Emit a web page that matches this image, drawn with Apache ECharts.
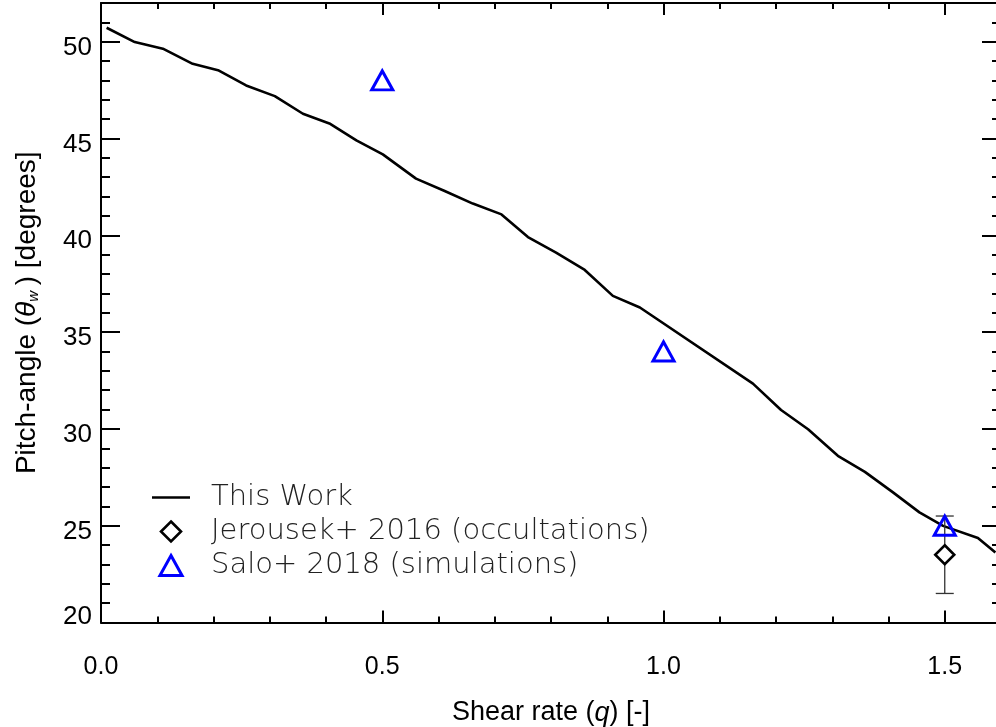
<!DOCTYPE html>
<html>
<head>
<meta charset="utf-8">
<script src="https://cdn.jsdelivr.net/npm/echarts@6/dist/echarts.min.js"></script>
<style>
  html, body { margin: 0; padding: 0; background: #fff; }
  #chart { width: 996px; height: 727px; }
</style>
</head>
<body>
<div id="chart"></div>
<script>
// Wake pitch angle as a function of the shear rate q

// "This Work" curve
const workQ = [0.010, 0.060, 0.110, 0.163, 0.208, 0.258, 0.309, 0.359, 0.406, 0.454,
               0.501, 0.560, 0.611, 0.661, 0.712, 0.759, 0.809, 0.860, 0.910, 0.958,
               1.159, 1.209, 1.257, 1.310, 1.358, 1.408, 1.455, 1.497, 1.559, 1.590];
const workAngle = [50.72, 49.98, 49.64, 48.86, 48.53, 47.74, 47.19, 46.28, 45.78, 44.90,
                   44.18, 42.93, 42.29, 41.64, 41.08, 39.91, 39.11, 38.21, 36.87, 36.27,
                   32.34, 30.98, 29.98, 28.61, 27.78, 26.72, 25.69, 24.99, 24.36, 23.62];

// Jerousek+ 2016 occultation measurement with its uncertainty
const jerousekQ = [1.5];
const jerousekAngle = [23.5];
const jerousekErr = [2.0];

// Salo+ 2018 simulations
const saloQ = [0.5, 1.0, 1.5];
const saloAngle = [48.0, 34.0, 25.0];

// Axis ranges and tick spacing
const qMin = 0, qMax = 1.6, qMajor = 0.5, qMinor = 0.1;
const angMin = 20, angMax = 52, angMajor = 5, angMinor = 1;

const seriesNames = ['This Work', 'Jerousek+ 2016 (occultations)', 'Salo+ 2018 (simulations)'];

const BLACK = '#000';
const BLUE = '#0000ff';
const TICK_FONT = 'Liberation Sans';

function xAxisDef(position, interval, tickLen, extra) {
  return Object.assign({
    type: 'value', min: qMin, max: qMax, interval: interval, position: position,
    axisLine: { show: true, onZero: false, lineStyle: { color: BLACK, width: 2 } },
    axisTick: { show: true, inside: true, length: tickLen, lineStyle: { color: BLACK, width: 2 } },
    axisLabel: { show: false },
    splitLine: { show: false }
  }, extra || {});
}
function yAxisDef(position, interval, tickLen, extra) {
  return Object.assign({
    type: 'value', min: angMin, max: angMax, interval: interval, position: position,
    axisLine: { show: true, onZero: false, lineStyle: { color: BLACK, width: 2 } },
    axisTick: { show: true, inside: true, length: tickLen, lineStyle: { color: BLACK, width: 2 } },
    axisLabel: { show: false },
    splitLine: { show: false }
  }, extra || {});
}

const chart = echarts.init(document.getElementById('chart'), null, { renderer: 'canvas' });

const option = {
  backgroundColor: '#fff',
  animation: false,
  grid: { left: 101, top: 3, right: -5, bottom: 104.5, containLabel: false, outerBoundsMode: 'none' },
  legend: {
    orient: 'vertical',
    left: 147, top: 478,
    itemWidth: 38, itemHeight: 20, itemGap: 5,
    selectedMode: false,
    textStyle: { fontFamily: 'DejaVu Sans', fontWeight: 200, fontSize: 29, color: '#222', padding: [0, 0, 0, 16] },
    data: [
      { name: seriesNames[0], icon: 'path://M0,0 H38 V2.6 H0 Z',
        itemStyle: { color: BLACK, borderWidth: 0 } },
      { name: seriesNames[1], icon: 'path://M10,0 L20,10 L10,20 L0,10 Z',
        itemStyle: { color: '#fff', borderColor: BLACK, borderWidth: 2.6 } },
      { name: seriesNames[2], icon: 'path://M10.5,0 L21,19 L0,19 Z',
        itemStyle: { color: 'rgba(255,255,255,0)', borderColor: BLUE, borderWidth: 3 } }
    ]
  },
  xAxis: [
    xAxisDef('bottom', qMajor, 12, {
      axisLabel: {
        show: true, margin: 32, fontSize: 25, fontFamily: TICK_FONT, color: BLACK,
        showMaxLabel: false, formatter: v => v.toFixed(1)
      },
      name: '{t|Shear rate (}{i|q}{t|) [-]}',
      nameLocation: 'middle', nameGap: 77,
      nameTextStyle: {
        rich: {
          t: { fontSize: 27, fontFamily: TICK_FONT, color: BLACK },
          i: { fontSize: 27, fontFamily: TICK_FONT, fontStyle: 'italic', color: BLACK }
        }
      }
    }),
    xAxisDef('bottom', qMinor, 6, { axisLine: { show: false, onZero: false } }),
    xAxisDef('top', qMajor, 12),
    xAxisDef('top', qMinor, 6, { axisLine: { show: false, onZero: false } })
  ],
  yAxis: [
    yAxisDef('left', angMajor, 19, {
      axisLabel: {
        show: true, margin: 9, color: BLACK, showMaxLabel: false,
        formatter: v => (v === angMin ? '{lo|' + v + '}' : '{n|' + v + '}'),
        rich: {
          n: { fontSize: 26, fontFamily: TICK_FONT, color: BLACK, padding: [12, 0, 0, 0] },
          lo: { fontSize: 26, fontFamily: TICK_FONT, color: BLACK, padding: [0, 0, 12, 0] }
        }
      },
      name: '{t|Pitch-angle (}{th|θ}{sub|w}{t|\u2009) [degrees]}',
      nameLocation: 'middle', nameGap: 60,
      nameTextStyle: {
        rich: {
          t: { fontSize: 28, fontFamily: TICK_FONT, color: BLACK },
          th: { fontSize: 28, fontFamily: TICK_FONT, fontStyle: 'italic', color: BLACK },
          sub: { fontSize: 15, fontFamily: TICK_FONT, fontStyle: 'italic', color: BLACK, verticalAlign: 'bottom' }
        }
      }
    }),
    yAxisDef('left', angMinor, 9, { axisLine: { show: false, onZero: false } }),
    yAxisDef('right', angMajor, 19),
    yAxisDef('right', angMinor, 9, { axisLine: { show: false, onZero: false } })
  ],
  series: [
    {
      name: seriesNames[0],
      type: 'line',
      xAxisIndex: 0, yAxisIndex: 0,
      data: workQ.map((q, i) => [q, workAngle[i]]),
      symbol: 'none', showSymbol: false, smooth: false,
      lineStyle: { color: BLACK, width: 2.6 },
      itemStyle: { color: BLACK },
      z: 2
    },
    {
      name: 'error bars',
      type: 'custom',
      xAxisIndex: 0, yAxisIndex: 0,
      silent: true,
      data: jerousekQ.map((q, i) => [q, jerousekAngle[i] - jerousekErr[i], jerousekAngle[i] + jerousekErr[i]]),
      renderItem: function (params, api) {
        const lo = api.coord([api.value(0), api.value(1)]);
        const hi = api.coord([api.value(0), api.value(2)]);
        const cap = 9;
        const st = { stroke: '#333', lineWidth: 1.3 };
        return {
          type: 'group',
          children: [
            { type: 'line', shape: { x1: lo[0], y1: lo[1], x2: hi[0], y2: hi[1] }, style: st },
            { type: 'line', shape: { x1: lo[0] - cap, y1: lo[1], x2: lo[0] + cap, y2: lo[1] }, style: st },
            { type: 'line', shape: { x1: hi[0] - cap, y1: hi[1], x2: hi[0] + cap, y2: hi[1] }, style: st }
          ]
        };
      },
      z: 3
    },
    {
      name: seriesNames[1],
      type: 'scatter',
      xAxisIndex: 0, yAxisIndex: 0,
      data: jerousekQ.map((q, i) => [q, jerousekAngle[i]]),
      symbol: 'diamond', symbolSize: 19,
      itemStyle: { color: '#fff', borderColor: BLACK, borderWidth: 2.6, opacity: 1 },
      z: 4
    },
    {
      name: seriesNames[2],
      type: 'scatter',
      xAxisIndex: 0, yAxisIndex: 0,
      data: saloQ.map((q, i) => [q, saloAngle[i]]),
      symbol: 'triangle', symbolSize: [21, 19],
      itemStyle: { color: 'rgba(255,255,255,0)', borderColor: BLUE, borderWidth: 3, opacity: 1 },
      z: 5
    }
  ]
};

chart.setOption(option);
</script>
</body>
</html>
